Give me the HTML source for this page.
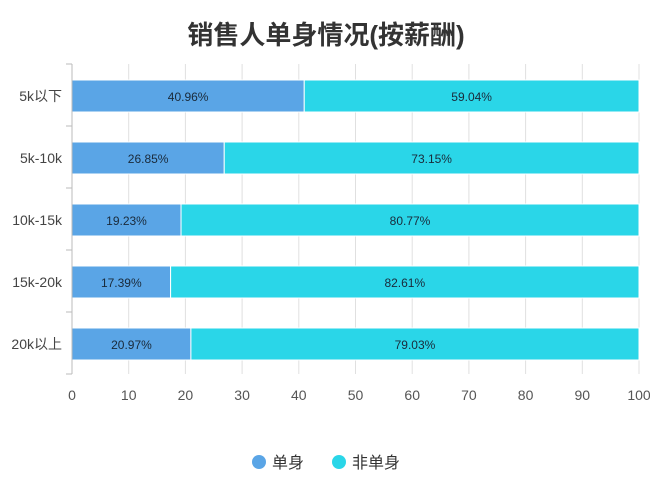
<!DOCTYPE html>
<html><head><meta charset="utf-8"><style>
html,body{margin:0;padding:0;background:#fff;}
svg{display:block;font-family:"Liberation Sans","Noto Sans CJK SC",sans-serif;}
</style></head><body>
<svg id="chart" width="650" height="484">
<text x="326" y="44" text-anchor="middle" font-size="26" font-weight="bold" fill="#333">销售人单身情况(按薪酬)</text>
<g id="grid"></g><g id="bars"></g><g id="axes"></g>
<g>
<circle cx="259" cy="462" r="7" fill="#5aa5e6"/>
<text x="272" y="468" font-size="16" fill="#333">单身</text>
<circle cx="339" cy="462" r="7" fill="#2ad6e8"/>
<text x="352" y="468" font-size="16" fill="#333">非单身</text>
</g>
</svg>
<script>
const categories=["5k以下","5k-10k","10k-15k","15k-20k","20k以上"];
const singleValues=[40.96,26.85,19.23,17.39,20.97];
const notSingleValues=[59.04,73.15,80.77,82.61,79.03];
const xTicks=[0,10,20,30,40,50,60,70,80,90,100];
const NS="http://www.w3.org/2000/svg";
const X0=72,X1=639,Y0=64,BAND=62,BH=32;
const xs=v=>X0+(X1-X0)*v/100;
const bandY=i=>Y0+i*BAND;
function mk(tag,attrs,parent){const e=document.createElementNS(NS,tag);for(const k in attrs)e.setAttribute(k,attrs[k]);parent.appendChild(e);return e;}
const grid=document.getElementById('grid'),bars=document.getElementById('bars'),axes=document.getElementById('axes');
const yEnd=bandY(categories.length);
xTicks.forEach(t=>{
  if(t>0){const l=mk('line',{x1:xs(t),x2:xs(t),y1:Y0,y2:yEnd,stroke:'#e0e0e0','stroke-width':1},grid);
  
  }
  const tx=mk('text',{x:xs(t),y:yEnd+26,'text-anchor':'middle','font-size':14,fill:'#555'},axes);
  tx.textContent=t;
  
  
});
const ax=mk('line',{x1:X0,x2:X0,y1:Y0,y2:yEnd,stroke:'#bbb','stroke-width':1},axes);


for(let i=0;i<=categories.length;i++){
  const tk=mk('line',{x1:X0-6,x2:X0,y1:bandY(i),y2:bandY(i),stroke:'#bbb'},axes);
  
  
}
categories.forEach((c,i)=>{
  const y=bandY(i)+16;
  const lab=mk('text',{x:X0-10,y:y+21,'text-anchor':'end','font-size':14,fill:'#444'},axes);
  lab.textContent=c;
  
  
  const a=singleValues[i],b=notSingleValues[i];
  const r1=mk('rect',{x:xs(0),y:y,width:xs(a)-xs(0),height:BH,fill:'#5aa5e6',stroke:'#fff','stroke-width':1},bars);
  
  
  const r2=mk('rect',{x:xs(a),y:y,width:xs(a+b)-xs(a),height:BH,fill:'#2ad6e8',stroke:'#fff','stroke-width':1},bars);
  
  
  const t1=mk('text',{x:(xs(0)+xs(a))/2,y:y+21,'text-anchor':'middle','font-size':12,fill:'#1a2a3a'},bars);
  t1.textContent=a.toFixed(2)+'%';
  
  
  const t2=mk('text',{x:(xs(a)+xs(a+b))/2,y:y+21,'text-anchor':'middle','font-size':12,fill:'#1a2a3a'},bars);
  t2.textContent=b.toFixed(2)+'%';
  
  
});
</script>
</body></html>
